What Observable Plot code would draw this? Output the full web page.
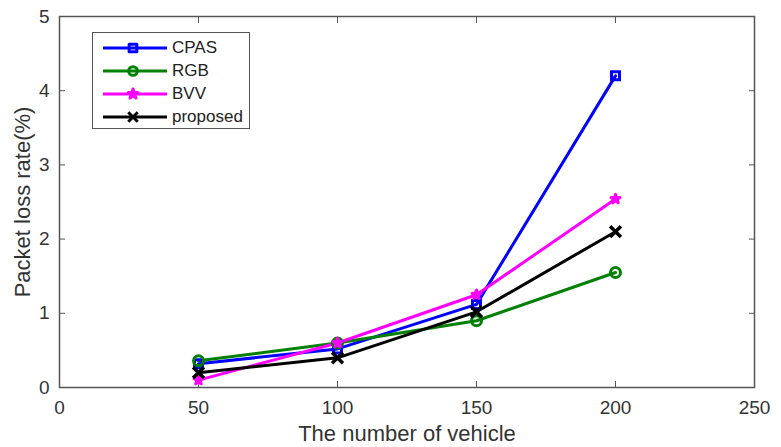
<!DOCTYPE html>
<html>
<head>
<meta charset="utf-8">
<script src="https://cdn.jsdelivr.net/npm/d3@7"></script>
<script src="https://cdn.jsdelivr.net/npm/@observablehq/plot@0.6"></script>
<style>
  body { margin: 0; background: #fff; }
  #wrap { position: relative; width: 781px; height: 447px; font-family: "Liberation Sans", Arial, sans-serif; }
  #legend { position: absolute; left: 92px; top: 32px; width: 158px; height: 97px; border: 1.5px solid #555; background: #fff; box-sizing: border-box; }
  #legend .row { position: absolute; left: 0; height: 22px; display: flex; align-items: center; }
  #legend .row span { font-size: 17px; color: #222; margin-left: 3px; }
</style>
</head>
<body>
<div id="wrap"><div id="chart"></div><div id="legend"></div></div>
<script>
const vehicles = [50, 100, 150, 200];
const seriesNames = ["CPAS", "RGB", "BVV", "proposed"];
const cpas = [0.32, 0.52, 1.12, 4.2];
const rgb = [0.36, 0.6, 0.9, 1.55];
const bvv = [0.1, 0.6, 1.25, 2.54];
const proposed = [0.2, 0.4, 1.02, 2.1];
const xTicks = [0, 50, 100, 150, 200, 250];
const yTicks = [0, 1, 2, 3, 4, 5];
const colors = ["#0000ff", "#008000", "#ff00ff", "#000000"];
const symbols = ["square", "circle", "star", "times"];

const allValues = [cpas, rgb, bvv, proposed];
const data = [];
seriesNames.forEach((s, i) => vehicles.forEach((v, j) => data.push({series: s, x: v, y: allValues[i][j]})));

const W = 781, H = 447;
const axisColor = "#555";
const textColor = "#333";
const fmt = d3.format("d");

const plot = Plot.plot({
  width: W, height: H,
  marginLeft: 59, marginRight: 27, marginTop: 16, marginBottom: 60,
  style: {fontFamily: "Liberation Sans, Arial, sans-serif", fontSize: "19px", color: textColor, background: "#fff"},
  x: {domain: [0, 250], ticks: xTicks},
  y: {domain: [0, 5], ticks: yTicks},
  color: {domain: seriesNames, range: colors},
  symbol: {domain: seriesNames, range: symbols},
  marks: [
    Plot.frame({stroke: axisColor, strokeWidth: 1.5}),
    Plot.axisX({ticks: xTicks, tickSize: -6, stroke: axisColor, tickPadding: 19, fontSize: 19, label: null, fill: textColor, tickFormat: fmt}),
    Plot.axisX({ticks: xTicks, anchor: "top", tickSize: -6, stroke: axisColor, tickFormat: () => "", label: null}),
    Plot.axisY({ticks: yTicks, tickSize: -6, stroke: axisColor, tickPadding: 16, fontSize: 19, label: null, fill: textColor, tickFormat: fmt}),
    Plot.axisY({ticks: yTicks, anchor: "right", tickSize: -6, stroke: axisColor, tickFormat: () => "", label: null}),
    Plot.line(data, {x: "x", y: "y", z: "series", stroke: "series", strokeWidth: 3}),
    Plot.dot(data.filter(d => d.series === "CPAS"), {x: "x", y: "y", symbol: "series", stroke: "series", r: 4.5, strokeWidth: 3, fill: "none"}),
    Plot.dot(data.filter(d => d.series === "RGB"), {x: "x", y: "y", symbol: "series", stroke: "series", r: 5, strokeWidth: 3, fill: "none"}),
    Plot.dot(data.filter(d => d.series === "BVV"), {x: "x", y: "y", symbol: "series", fill: "series", r: 2.8, stroke: "series", strokeWidth: 3, strokeLinejoin: "round"}),
    Plot.dot(data.filter(d => d.series === "proposed"), {x: "x", y: "y", symbol: "series", stroke: "series", r: 5, strokeWidth: 3.5}),
    Plot.text(["Packet loss rate(%)"], {frameAnchor: "left", dx: -37, rotate: -90, fontSize: 22, fill: textColor, textAnchor: "middle"}),
    Plot.text(["The number of vehicle"], {frameAnchor: "bottom", dy: 46, lineAnchor: "middle", fontSize: 22, fill: textColor})
  ]
});
document.getElementById("chart").appendChild(plot);

// legend
const legend = document.getElementById("legend");
seriesNames.forEach((s, i) => {
  const row = document.createElement("div");
  row.className = "row";
  row.style.top = (4 + i * 23) + "px";
  const sym = d3.symbol().type({square: d3.symbolSquare, circle: d3.symbolCircle, star: d3.symbolStar, times: d3.symbolTimes}[symbols[i]]).size(i === 2 ? 28 : 60)();
  const fill = i === 2 ? colors[i] : "none";
  row.innerHTML = `<svg width="76" height="22"><line x1="10" x2="74" y1="11" y2="11" stroke="${colors[i]}" stroke-width="3"/><path d="${sym}" transform="translate(40,11)" fill="${fill}" stroke="${colors[i]}" stroke-width="3" stroke-linejoin="round"/></svg><span>${s}</span>`;
  legend.appendChild(row);
});
</script>
</body>
</html>
